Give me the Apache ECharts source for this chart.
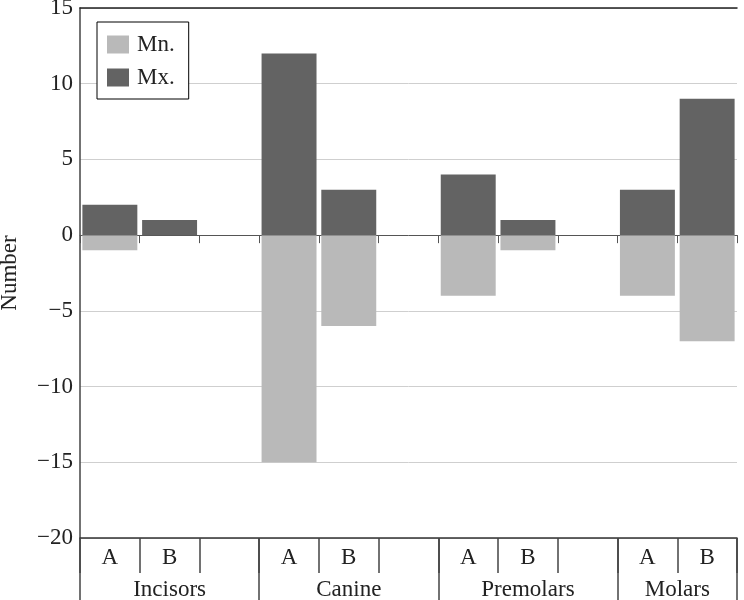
<!DOCTYPE html>
<html>
<head>
<meta charset="utf-8">
<script src="https://cdn.jsdelivr.net/npm/echarts@6/dist/echarts.min.js"></script>
<style>
  html, body { margin: 0; padding: 0; background: #fff; }
  #chart { width: 744px; height: 600px; }
</style>
</head>
<body>
<div id="chart"></div>
<script>
var groups = ['Incisors', 'Canine', 'Premolars', 'Molars'];
var subs = ['A', 'B'];
var mnValues = [-1, 0, -15, -6, -4, -1, -4, -7];
var mxValues = [2, 1, 12, 3, 4, 1, 3, 9];
var yTicks = [-20, -15, -10, -5, 0, 5, 10, 15];

var font = 'Liberation Serif';
var fs = 23;

// build slots: A, B, gap per group (no gap after the last one)
var slots = [];
var mnData = [];
var mxData = [];
var groupEdges = [0];
var groupCenters = [];
groups.forEach(function (g, gi) {
    var start = slots.length;
    subs.forEach(function (s, si) {
        slots.push(s);
        mnData.push(mnValues[gi * subs.length + si] || null);
        mxData.push(mxValues[gi * subs.length + si] || null);
    });
    if (gi < groups.length - 1) {
        slots.push('');
        mnData.push(null);
        mxData.push(null);
    }
    groupEdges.push(slots.length);
    groupCenters.push((start + slots.length) / 2);
});

function minus(v) {
    return v < 0 ? '\u2212' + Math.abs(v) : String(v);
}

var chart = echarts.init(document.getElementById('chart'));
var option = {
    animation: false,
    textStyle: { fontFamily: font },
    grid: { left: 80, right: 7, top: 8, bottom: 62, containLabel: false, outerBoundsMode: 'none' },
    legend: {
        left: 97,
        top: 22,
        orient: 'vertical',
        data: ['Mn.', 'Mx.'],
        backgroundColor: '#fff',
        borderColor: '#000',
        borderWidth: 1,
        padding: [11, 14, 10, 10],
        itemGap: 10,
        itemWidth: 22,
        itemHeight: 18,
        icon: 'rect',
        textStyle: { fontFamily: font, fontSize: fs, color: '#222', padding: [0, 0, 0, 3] }
    },
    xAxis: [{
        // bottom: A / B labels
        type: 'category',
        data: slots,
        position: 'bottom',
        axisLine: { onZero: false, lineStyle: { color: '#333', width: 1.5 } },
        axisTick: { show: true, interval: 0, length: 35, lineStyle: { color: '#444', width: 1.5 } },
        axisLabel: { interval: 0, margin: 8, fontFamily: font, fontSize: fs, color: '#222' },
        splitLine: { show: false }
    }, {
        // line at zero with small ticks
        type: 'category',
        data: slots,
        position: 'bottom',
        axisLine: { onZero: true, lineStyle: { color: '#555', width: 1 } },
        axisTick: { show: true, interval: 0, length: 8, lineStyle: { color: '#555', width: 1 } },
        axisLabel: { show: false },
        splitLine: { show: false }
    }, {
        // group labels
        type: 'value',
        min: 0,
        max: slots.length,
        position: 'bottom',
        axisLine: { show: false, onZero: false },
        axisTick: { show: true, customValues: groupEdges, length: 62, lineStyle: { color: '#444', width: 1.5 } },
        axisLabel: {
            customValues: groupCenters,
            margin: 40,
            fontFamily: font,
            fontSize: fs,
            color: '#222',
            formatter: function (v) {
                return groups[groupCenters.indexOf(v)] || '';
            }
        },
        splitLine: { show: false }
    }, {
        // top border
        type: 'category',
        data: slots,
        position: 'top',
        axisLine: { onZero: false, lineStyle: { color: '#222', width: 1.5 } },
        axisTick: { show: false },
        axisLabel: { show: false }
    }],
    yAxis: {
        type: 'value',
        min: -20,
        max: 15,
        interval: 5,
        name: 'Number',
        nameLocation: 'middle',
        nameGap: 59,
        nameTextStyle: { fontFamily: font, fontSize: fs, color: '#222' },
        axisLine: { show: true, lineStyle: { color: '#444', width: 1.5 } },
        axisTick: { show: false },
        axisLabel: {
            margin: 7,
            fontFamily: font,
            fontSize: fs,
            color: '#222',
            customValues: yTicks,
            formatter: minus
        },
        splitLine: { show: true, lineStyle: { color: '#cfcfcf', width: 1 } }
    },
    series: [{
        name: 'Mn.',
        type: 'bar',
        xAxisIndex: 1,
        data: mnData,
        barGap: '-100%',
        barCategoryGap: '8%',
        itemStyle: { color: '#b9b9b9' }
    }, {
        name: 'Mx.',
        type: 'bar',
        xAxisIndex: 1,
        data: mxData,
        barGap: '-100%',
        barCategoryGap: '8%',
        itemStyle: { color: '#636363' }
    }]
};
chart.setOption(option);
</script>
</body>
</html>
